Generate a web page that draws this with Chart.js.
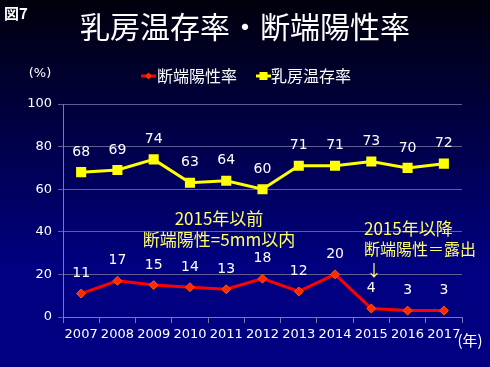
<!DOCTYPE html>
<html>
<head>
<meta charset="utf-8">
<script src="https://cdn.jsdelivr.net/npm/chart.js@4/dist/chart.umd.min.js"></script>
<style>
  html, body { margin: 0; padding: 0; }
  body { width: 490px; height: 367px; background: linear-gradient(#00000c 0%, #000045 35%, #000080 72%, #000080 100%); }
  #wrap { position: relative; width: 490px; height: 367px; }
</style>
</head>
<body>
<div id="wrap"><canvas id="chart" width="490" height="367"></canvas></div>
<script>
// data
var years = ["2007", "2008", "2009", "2010", "2011", "2012", "2013", "2014", "2015", "2016", "2017"];
var positiveRate = [11, 17, 15, 14, 13, 18, 12, 20, 4, 3, 3];       // 断端陽性率
var conservRate = [68, 69, 74, 63, 64, 60, 71, 71, 73, 70, 72];     // 乳房温存率
var seriesNames = ["断端陽性率", "乳房温存率"];
var yTicks = [0, 20, 40, 60, 80, 100];

var jp = '"Noto Sans CJK JP", sans-serif';
var num = '"DejaVu Sans", Verdana, sans-serif';

// title, legend, notes and value labels drawn by hand
var decorations = {
  id: 'decorations',
  afterDatasetsDraw: function(chart) {
    var c = chart.ctx;
    c.save();
    // value labels
    c.fillStyle = '#ffffff';
    c.font = '14px ' + num;
    c.textAlign = 'center';
    c.textBaseline = 'middle';
    chart.data.datasets.forEach(function(ds, i) {
      chart.getDatasetMeta(i).data.forEach(function(pt, j) {
        c.fillText(ds.data[j], pt.x, pt.y - 20);
      });
    });
    c.restore();
  },
  afterDraw: function(chart) {
    var c = chart.ctx;
    c.save();
    c.textBaseline = 'middle';
    // 図7
    c.fillStyle = '#ffffff';
    c.font = 'bold 15px ' + jp;
    c.textAlign = 'left';
    c.fillText('図7', 4, 13);
    // title
    c.font = '30px ' + jp;
    c.textAlign = 'center';
    c.fillText('乳房温存率・断端陽性率', 245, 27);
    // unit labels
    c.font = '13px ' + num;
    c.fillText('(%)', 40, 74);
    c.font = '15px ' + jp;
    c.fillText('(年)', 470, 340);
    // legend
    c.font = '16px ' + jp;
    c.textAlign = 'left';
    c.lineWidth = 3;
    c.strokeStyle = '#ff0000';
    c.beginPath(); c.moveTo(141, 76); c.lineTo(156, 76); c.stroke();
    c.fillStyle = '#ff2a00';
    c.beginPath(); c.moveTo(148.5, 72.5); c.lineTo(152, 76); c.lineTo(148.5, 79.5); c.lineTo(145, 76); c.closePath(); c.fill();
    c.fillStyle = '#ffffff';
    c.fillText(seriesNames[0], 157, 76);
    c.strokeStyle = '#ffff00';
    c.beginPath(); c.moveTo(256, 76); c.lineTo(271, 76); c.stroke();
    c.fillStyle = '#ffff00';
    c.fillRect(259.5, 72, 8, 8);
    c.fillStyle = '#ffffff';
    c.fillText(seriesNames[1], 271, 76);
    // notes
    c.fillStyle = '#ffff66';
    c.font = '17px ' + jp;
    c.textAlign = 'center';
    c.fillText('2015年以前', 219, 219);
    c.fillText('断端陽性=5mm以内', 219, 240);
    c.textAlign = 'left';
    c.fillText('2015年以降', 364, 229);
    c.font = '16px ' + jp;
    c.fillText('断端陽性＝露出', 364, 249);
    c.fillText('↓', 366, 270);
    c.restore();
  }
};

var ctx = document.getElementById('chart').getContext('2d');
var chart = new Chart(ctx, {
  type: 'line',
  data: {
    labels: years,
    datasets: [{
      label: seriesNames[0],
      data: positiveRate,
      borderColor: '#ff0000',
      borderWidth: 3,
      pointStyle: 'rectRot',
      pointRadius: 4.5,
      pointBackgroundColor: '#ff2a00',
      pointBorderColor: '#ff5a00',
      pointBorderWidth: 1,
      tension: 0
    }, {
      label: seriesNames[1],
      data: conservRate,
      borderColor: '#ffff00',
      borderWidth: 3,
      pointStyle: 'rect',
      pointRadius: 5,
      pointBackgroundColor: '#ffff00',
      pointBorderColor: '#ffff00',
      tension: 0
    }]
  },
  options: {
    responsive: false,
    animation: false,
    events: [],
    layout: { padding: { left: 0, right: 28, top: 104, bottom: 0 } },
    plugins: { legend: { display: false }, tooltip: { enabled: false } },
    scales: {
      x: {
        offset: true,
        grid: { offset: true, drawOnChartArea: false, color: '#7a7aa8', tickLength: 6 },
        border: { color: '#7a7aa8' },
        ticks: { color: '#ffffff', font: { family: num, size: 13 }, padding: 4, maxRotation: 0, autoSkip: false },
        afterFit: function(s) { s.height = 50; }
      },
      y: {
        min: 0,
        max: 100,
        afterBuildTicks: function(s) { s.ticks = yTicks.map(function(v) { return { value: v }; }); },
        grid: { color: '#5e5e92', tickLength: 5 },
        border: { color: '#7a7aa8' },
        ticks: { color: '#ffffff', font: { family: num, size: 13 }, padding: 6 },
        afterFit: function(s) { s.width = 63; }
      }
    }
  },
  plugins: [decorations]
});
</script>
</body>
</html>
